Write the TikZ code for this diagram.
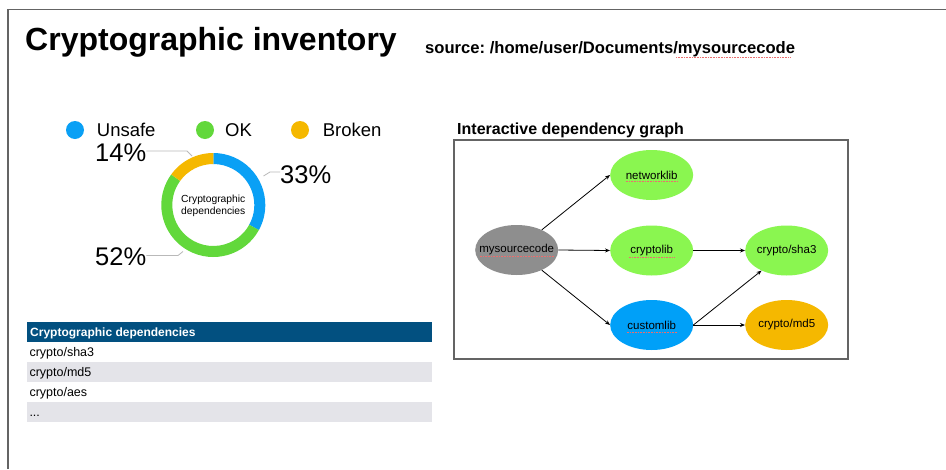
\documentclass[tikz,border=0pt]{standalone}
\usepackage{fontspec}
\setmainfont{Liberation Sans}
\usetikzlibrary{arrows.meta,shapes.geometric}

\definecolor{unsafeblue}{RGB}{10,160,245}
\definecolor{okgreen}{RGB}{98,216,59}
\definecolor{brokenyellow}{RGB}{245,184,0}
\definecolor{libgreen}{RGB}{138,246,80}
\definecolor{srcgrey}{RGB}{142,142,142}
\definecolor{custblue}{RGB}{0,160,248}
\definecolor{hdrblue}{RGB}{2,80,128}
\definecolor{rowgrey}{RGB}{228,228,233}
\definecolor{leadergrey}{RGB}{185,185,185}
\definecolor{framegrey}{RGB}{100,100,100}
\definecolor{spellred}{RGB}{235,110,110}

\frenchspacing
\newcommand{\zerowidth}[1]{\makebox[0pt][c]{#1}}

\begin{document}
\begin{tikzpicture}[x=1pt,y=-1pt,
  txt/.style={anchor=base west,inner sep=0pt},
  libnode/.style={ellipse,inner sep=0pt,minimum width=83pt,minimum height=50pt,
    font=\fontsize{11.5}{13}\selectfont},
  dep/.style={draw=black,line width=0.8pt,-{Stealth[length=5pt,width=4pt]}},
  leader/.style={draw=leadergrey,line width=0.8pt},
  spell/.style={draw=spellred,line width=0.5pt,dash pattern=on 0.8pt off 0.8pt},
  legdot/.style={circle,inner sep=0pt,minimum size=18pt},
  legtxt/.style={txt,font=\fontsize{18.5}{22}\selectfont},
  pct/.style={txt,font=\fontsize{25.5}{30}\selectfont},
  rowtxt/.style={txt,font=\fontsize{12.5}{15}\selectfont}]

\useasboundingbox (0,0) rectangle (946,469);
\fill[white] (0,0) rectangle (946,469);

% page frame (top and left edges)
\draw[framegrey,line width=1.5pt] (8,469) -- (8,9.5) -- (946,9.5);

% headings
\node[txt,font=\fontsize{32}{36}\selectfont\bfseries] (title) at (25,50) {Cryptographic inventory};
\node[txt,font=\fontsize{16.6}{20}\selectfont\bfseries] (src) at (425,53) {source: /home/user/Documents/mysourcecode};
\draw[spell] (676,57.5) -- (790,57.5);

% legend
\node[legdot,fill=unsafeblue] (lu) at (75,130) {};
\node[legtxt] (tu) at (96.7,136) {Unsafe};
\node[legdot,fill=okgreen] (lo) at (205,130) {};
\node[legtxt] (to) at (225,136) {OK};
\node[legdot,fill=brokenyellow] (lb) at (300,130) {};
\node[legtxt] (tb) at (322.7,136) {Broken};

% donut chart
\begin{scope}[shift={(213.3,205)},y={(0pt,1pt)}]
  \fill[unsafeblue] (90:52) arc[start angle=90,end angle=-28.8,radius=52]
     -- (-28.8:41) arc[start angle=-28.8,end angle=90,radius=41] -- cycle;
  \fill[okgreen] (-28.8:52) arc[start angle=-28.8,end angle=-216,radius=52]
     -- (-216:41) arc[start angle=-216,end angle=-28.8,radius=41] -- cycle;
  \fill[brokenyellow] (-216:52) arc[start angle=-216,end angle=-270,radius=52]
     -- (-270:41) arc[start angle=-270,end angle=-216,radius=41] -- cycle;
\end{scope}
\node[align=center,inner sep=0pt,font=\fontsize{10.3}{12}\selectfont] (dc) at (213.3,206)
  {Cryptographic\\dependencies};

% percentage labels with leader lines
\node[pct] (p33) at (280,183.3) {33\%};
\node[pct] (p14) at (95,161.7) {14\%};
\node[pct] (p52) at (95,265) {52\%};
\coordinate (r33) at (263.5,176);
\coordinate (r14) at (192,156);
\coordinate (r52) at (183,251.5);
\draw[leader] (r33) -- (270,172) -- (p33.west |- 0,172);
\draw[leader] (p14.east |- 0,151) -- (187,151) -- (r14);
\draw[leader] (p52.east |- 0,255.5) -- (178,255.5) -- (r52);

% dependency table
\fill[hdrblue] (27,321.7) rectangle (431.7,341.7);
\fill[rowgrey] (27,361.7) rectangle (431.7,381.7);
\fill[rowgrey] (27,401.7) rectangle (431.7,422);
\node[txt,text=white,font=\fontsize{12}{14}\selectfont\bfseries] (th) at (30,336) {Cryptographic dependencies};
\node[rowtxt] (t1) at (29.3,356.5) {crypto/sha3};
\node[rowtxt] (t2) at (29.3,376.5) {crypto/md5};
\node[rowtxt] (t3) at (29.3,396.5) {crypto/aes};
\node[rowtxt] (t4) at (29.3,416.5) {...};

% dependency graph
\node[txt,font=\fontsize{16}{19}\selectfont\bfseries] (gt) at (457,134) {Interactive dependency graph};
\draw[framegrey,line width=1.2pt] (454,140) rectangle (848,359);

\node[libnode,fill=srcgrey] (msc) at (516.7,250) {\zerowidth{mysourcecode}};
\node[libnode,fill=libgreen] (net) at (651.7,175) {\zerowidth{networklib}};
\node[libnode,fill=libgreen] (cl) at (651.7,250.5) {\zerowidth{cryptolib}};
\node[libnode,fill=custblue] (cu) at (651.7,325) {\zerowidth{customlib}};
\node[libnode,fill=libgreen] (sha) at (786.7,250.5) {\zerowidth{crypto/sha3}};
\node[libnode,fill=brokenyellow] (md) at (786.7,325) {\zerowidth{crypto/md5}};

\draw[spell] ([xshift=-37pt,yshift=-6.5pt]msc.center) -- ++(74,0);
\draw[spell] ([xshift=-26pt,yshift=-6.5pt]net.center) -- ++(52,0);
\draw[spell] ([xshift=-23pt,yshift=-7pt]cl.center) -- ++(46,0);
\draw[spell] ([xshift=-25pt,yshift=-7pt]cu.center) -- ++(50,0);

\draw[dep] (msc) -- (net.west);
\draw[dep] (msc.east) -- (cl.west);
\draw[dep] (msc) -- (cu.west);
\draw[dep] (cl.east) -- (sha.west);
\draw[dep] (cu.east) -- (sha);
\draw[dep] (cu.east) -- (md.west);
\end{tikzpicture}
\end{document}
